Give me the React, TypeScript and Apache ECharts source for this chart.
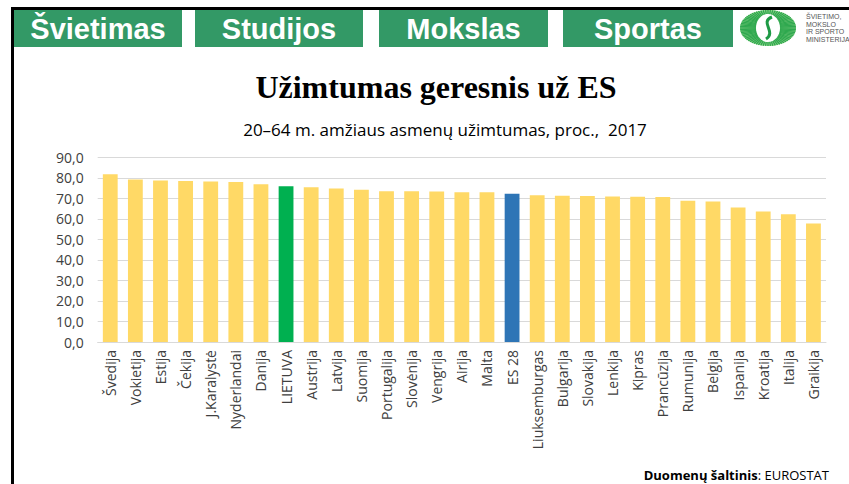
import React, { useEffect, useRef } from "react";
import * as echarts from "echarts";

const categories = [
  "Švedija", "Vokietija", "Estija", "Čekija", "J.Karalystė", "Nyderlandai", "Danija", "LIETUVA",
  "Austrija", "Latvija", "Suomija", "Portugalija", "Slovėnija", "Vengrija", "Airija", "Malta",
  "ES 28", "Liuksemburgas", "Bulgarija", "Slovakija", "Lenkija", "Kipras", "Prancūzija", "Rumunija",
  "Belgija", "Ispanija", "Kroatija", "Italija", "Graikija",
];
const values = [
  81.8, 79.2, 78.7, 78.5, 78.2, 78.0, 76.9, 75.9,
  75.4, 74.8, 74.2, 73.4, 73.4, 73.3, 73.0, 73.0,
  72.2, 71.5, 71.3, 71.1, 70.9, 70.8, 70.6, 68.8,
  68.5, 65.5, 63.6, 62.3, 57.8,
];
const menu = ["Švietimas", "Studijos", "Mokslas", "Sportas"];
const menuX = [14, 195, 379, 563];
const menuW = [168, 168, 169, 170];
const title = "Užimtumas geresnis už ES";
const subtitle = "20–64 m. amžiaus asmenų užimtumas, proc.,  2017";
const yMax = 90;
const yInterval = 10;

const YELLOW = "#FFD966";
const GREEN = "#00B050";
const BLUE = "#2E75B6";
const HEADER = "#339966";
const SANS = "Open Sans, Noto Sans, sans-serif";

function barColor(name: string) {
  if (name === "LIETUVA") return GREEN;
  if (name === "ES 28") return BLUE;
  return YELLOW;
}

function logo(): any[] {
  const cx = 768, cy = 28;
  const rays: any[] = [];
  const n = 72;
  for (let i = 0; i < n; i++) {
    const a = (i / n) * Math.PI * 2;
    const c = Math.cos(a), s = Math.sin(a);
    rays.push({
      type: "line",
      shape: { x1: cx + c * 12, y1: cy + s * 10, x2: cx + c * 28, y2: cy + s * 18 },
      style: { stroke: "#2FA84F", lineWidth: 1.3 },
      silent: true,
    });
  }
  return [
    { type: "ellipse", shape: { cx, cy, rx: 28, ry: 18 }, style: { fill: "#8FD48A" }, silent: true },
    ...rays,
    { type: "ellipse", shape: { cx, cy, rx: 12, ry: 14 }, style: { fill: "#ffffff" }, silent: true },
    {
      type: "bezierCurve",
      shape: { x1: cx + 4, y1: cy - 11, x2: cx - 2, y2: cy + 11, cpx1: cx - 9, cpy1: cy - 6, cpx2: cx + 9, cpy2: cy + 4 },
      style: { stroke: "#1E9A45", lineWidth: 3, fill: null },
      silent: true,
    },
    {
      type: "text",
      x: 806, y: 13,
      style: {
        text: "ŠVIETIMO,\nMOKSLO\nIR SPORTO\nMINISTERIJA",
        fill: "#555555", fontSize: 7, lineHeight: 7.5,
        fontFamily: "Liberation Sans",
      },
      silent: true,
    },
  ];
}

export default function App() {
  const ref = useRef<HTMLDivElement>(null);
  useEffect(() => {
    if (!ref.current) return;
    const chart = echarts.init(ref.current, null, { renderer: "svg" });
    const graphics: any[] = [
      { type: "rect", shape: { x: 11, y: 7, width: 838, height: 3 }, style: { fill: "#000" }, silent: true },
      { type: "rect", shape: { x: 11, y: 7, width: 3, height: 477 }, style: { fill: "#000" }, silent: true },
    ];
    menu.forEach((m, i) => {
      graphics.push({
        type: "rect",
        shape: { x: menuX[i], y: 10, width: menuW[i], height: 37 },
        style: { fill: HEADER },
        silent: true,
      });
      graphics.push({
        type: "text",
        x: menuX[i] + menuW[i] / 2,
        y: 28.5,
        style: {
          text: m, fill: "#ffffff", fontSize: 29, fontWeight: "bold",
          fontFamily: "Liberation Sans, Arial",
          align: "center", verticalAlign: "middle",
        },
        silent: true,
      });
    });
    graphics.push(...logo());
    graphics.push({
      type: "text", x: 436, y: 87,
      style: {
        text: title, fill: "#000", fontSize: 32, fontWeight: "bold",
        fontFamily: "Liberation Serif, Times New Roman, serif",
        align: "center", verticalAlign: "middle",
      },
      silent: true,
    });
    graphics.push({
      type: "text", x: 445, y: 129,
      style: {
        text: subtitle, fill: "#000", fontSize: 17,
        fontFamily: SANS,
        align: "center", verticalAlign: "middle",
      },
      silent: true,
    });
    graphics.push({
      type: "text", x: 829, y: 475,
      style: {
        text: "{b|Duomenų šaltinis}: EUROSTAT",
        fill: "#000", fontSize: 13,
        fontFamily: SANS,
        align: "right", verticalAlign: "middle",
        rich: { b: { fontWeight: "bold", fontSize: 13, fontFamily: SANS, fill: "#000" } },
      },
      silent: true,
    });

    chart.setOption({
      animation: false,
      backgroundColor: "#ffffff",
      grid: { left: 97.7, right: 23, top: 157.3, bottom: 142, containLabel: false, outerBoundsMode: "none" },
      xAxis: {
        type: "category",
        data: categories,
        axisLine: { lineStyle: { color: "#D9D9D9", width: 1 } },
        axisTick: { show: false },
        axisLabel: {
          rotate: 90, interval: 0, margin: 8, color: "#404040", fontSize: 14,
          fontFamily: SANS,
        },
      },
      yAxis: {
        type: "value",
        min: 0, max: yMax, interval: yInterval,
        axisLine: { show: false },
        axisTick: { show: false },
        splitLine: { lineStyle: { color: "#D9D9D9", width: 1 } },
        axisLabel: {
          color: "#404040", fontSize: 14, margin: 14,
          fontFamily: SANS,
          formatter: (v: number) => v.toFixed(1).replace(".", ","),
        },
      },
      series: [
        {
          type: "bar",
          barCategoryGap: "41%",
          data: values.map((v, i) => ({ value: v, itemStyle: { color: barColor(categories[i]) } })),
        },
      ],
      graphic: graphics,
    });
    return () => chart.dispose();
  }, []);
  return <div ref={ref} style={{ position: "fixed", left: 0, top: 0, width: 849, height: 484 }} />;
}
